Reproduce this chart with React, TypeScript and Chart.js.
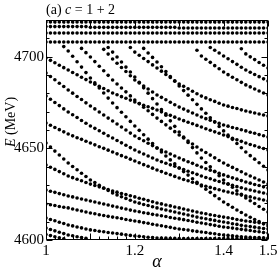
import React, { useEffect, useRef } from "react";
import { Chart, registerables } from "chart.js";

Chart.register(...registerables);

const N = null;

const alphas = [1.00, 1.01, 1.02, 1.03, 1.04, 1.05, 1.06, 1.07, 1.08, 1.09, 1.10, 1.11, 1.12, 1.13, 1.14, 1.15, 1.16, 1.17, 1.18, 1.19, 1.20, 1.21, 1.22, 1.23, 1.24, 1.25, 1.26, 1.27, 1.28, 1.29, 1.30, 1.31, 1.32, 1.33, 1.34, 1.35, 1.36, 1.37, 1.38, 1.39, 1.40, 1.41, 1.42, 1.43, 1.44, 1.45, 1.46, 1.47, 1.48, 1.49, 1.50];

const xTicks = [1, 1.2, 1.4, 1.5];
const yTicks = [4600, 4650, 4700];

const T1 = [4718.9, 4718.9, 4718.9, 4718.9, 4718.9, 4718.9, 4718.9, 4718.9, 4718.9, 4718.9, 4718.9, 4718.9, 4718.9, 4718.9, 4718.9, 4718.9, 4718.9, 4718.9, 4718.9, 4718.9, 4718.9, 4718.9, 4718.9, 4718.9, 4718.9, 4718.9, 4718.9, 4718.9, 4718.9, 4718.9, 4718.9, 4718.9, 4718.9, 4718.9, 4718.9, 4718.9, 4718.9, 4718.9, 4718.9, 4718.9, 4718.9, 4718.9, 4718.9, 4718.9, 4718.9, 4718.9, 4718.9, 4718.9, 4718.9, 4718.9, 4718.9];
const T2 = [4716.4, 4716.4, 4716.4, 4716.4, 4716.4, 4716.4, 4716.4, 4716.4, 4716.4, 4716.4, 4716.0, 4716.0, 4716.0, 4716.0, 4716.0, 4716.0, 4716.0, 4716.0, 4716.0, 4716.0, 4716.0, 4716.0, 4716.0, 4716.0, 4716.0, 4716.0, 4716.0, 4716.0, 4716.0, 4716.0, 4715.6, 4715.6, 4715.6, 4715.6, 4715.6, 4715.6, 4715.6, 4715.6, 4715.6, 4715.6, 4715.6, 4715.6, 4715.6, 4715.6, 4715.6, 4715.6, 4715.6, 4715.6, 4715.6, 4715.6, 4715.6];
const T3 = [4712.9, 4712.9, 4712.9, 4712.9, 4712.9, 4712.9, 4712.9, 4712.9, 4712.9, 4712.9, 4712.9, 4712.9, 4712.9, 4712.9, 4712.9, 4712.9, 4712.9, 4712.9, 4712.9, 4712.9, 4712.9, 4712.9, 4712.9, 4712.9, 4712.9, 4712.9, 4712.9, 4712.9, 4712.9, 4712.9, 4712.9, 4712.9, 4712.9, 4712.9, 4712.9, 4712.9, 4712.9, 4712.9, 4712.9, 4712.9, 4712.9, 4712.9, 4712.9, 4712.9, 4712.9, 4712.9, 4712.9, 4712.9, 4712.9, 4712.9, 4712.9];
const T4 = [4708.0, 4708.0, 4708.0, 4708.0, 4708.0, 4708.0, 4708.0, 4708.0, 4708.0, 4708.0, 4708.0, 4708.0, 4708.0, 4708.0, 4708.0, 4708.0, 4708.0, 4708.0, 4708.0, 4708.0, 4708.0, 4708.0, 4708.0, 4708.0, 4708.0, 4708.0, 4708.0, 4708.0, 4708.0, 4708.0, 4708.0, 4708.0, 4708.0, 4708.0, 4708.0, 4708.0, 4708.0, 4708.0, 4708.0, 4708.0, 4708.0, 4708.0, 4708.0, 4708.0, 4708.0, 4708.0, 4708.0, 4708.0, 4708.0, 4708.0, 4708.0];

const S0 = [4699.3, 4698.0, 4696.7, 4695.3, 4694.0, 4692.7, 4691.4, 4690.1, 4688.8, 4687.5, 4686.2, 4685.0, 4683.8, 4682.6, 4681.4, 4680.2, 4679.2, 4678.2, 4677.3, 4676.3, 4675.3, 4674.4, 4673.5, 4672.7, 4671.8, 4670.9, 4669.9, 4668.9, 4668.0, 4667.0, 4666.0, 4665.1, 4664.2, 4663.4, 4662.5, 4661.6, 4660.7, 4659.9, 4659.0, 4658.2, 4657.3, 4656.4, 4655.5, 4654.7, 4653.8, 4652.9, 4652.1, 4651.4, 4650.6, 4649.9, 4649.1];
const S1 = [4691.1, 4689.2, 4687.4, 4685.5, 4683.7, 4681.8, 4680.1, 4678.3, 4676.6, 4674.8, 4673.1, 4671.5, 4669.8, 4668.2, 4666.5, 4664.9, 4663.3, 4661.6, 4660.0, 4658.3, 4656.7, 4655.4, 4654.1, 4652.8, 4651.5, 4650.2, 4649.1, 4648.0, 4646.9, 4645.8, 4644.7, 4643.7, 4642.7, 4641.8, 4640.8, 4639.8, 4638.9, 4638.1, 4637.2, 4636.4, 4635.5, 4634.7, 4633.9, 4633.2, 4632.4, 4631.6, 4631.0, 4630.3, 4629.7, 4629.0, 4628.4];
const S2 = [4678.5, 4676.8, 4675.0, 4673.3, 4671.5, 4669.8, 4668.3, 4666.8, 4665.2, 4663.7, 4662.2, 4660.9, 4659.6, 4658.2, 4656.9, 4655.6, 4654.3, 4653.0, 4651.7, 4650.4, 4649.1, 4648.0, 4646.9, 4645.8, 4644.7, 4643.6, 4642.7, 4641.9, 4641.0, 4640.2, 4639.3, 4638.4, 4637.5, 4636.7, 4635.8, 4634.9, 4634.1, 4633.4, 4632.6, 4631.9, 4631.1, 4630.4, 4629.8, 4629.1, 4628.5, 4627.8, 4627.3, 4626.7, 4626.2, 4625.6, 4625.1];
const S3 = [4663.8, 4662.6, 4661.4, 4660.2, 4659.0, 4657.8, 4656.8, 4655.8, 4654.9, 4653.9, 4652.9, 4651.9, 4650.9, 4650.0, 4649.0, 4648.0, 4647.0, 4646.0, 4645.1, 4644.1, 4643.1, 4642.1, 4641.1, 4640.2, 4639.2, 4638.2, 4637.3, 4636.4, 4635.6, 4634.7, 4633.8, 4633.0, 4632.3, 4631.5, 4630.8, 4630.0, 4629.3, 4628.7, 4628.0, 4627.4, 4626.7, 4626.2, 4625.6, 4625.1, 4624.5, 4624.0, 4623.5, 4622.9, 4622.4, 4621.8, 4621.3];
const S4 = [4652.9, 4650.7, 4648.5, 4646.4, 4644.2, 4642.0, 4640.1, 4638.3, 4636.4, 4634.6, 4632.7, 4631.3, 4629.9, 4628.4, 4627.0, 4625.6, 4624.6, 4623.6, 4622.7, 4621.7, 4620.7, 4620.1, 4619.4, 4618.8, 4618.1, 4617.5, 4616.9, 4616.4, 4615.8, 4615.3, 4614.7, 4614.2, 4613.6, 4613.1, 4612.5, 4612.0, 4611.6, 4611.1, 4610.7, 4610.2, 4609.8, 4609.4, 4608.9, 4608.5, 4608.0, 4607.6, 4607.3, 4607.0, 4606.6, 4606.3, 4606.0];
const S5 = [4640.9, 4639.7, 4638.5, 4637.3, 4636.1, 4634.9, 4634.0, 4633.1, 4632.3, 4631.4, 4630.5, 4629.7, 4629.0, 4628.2, 4627.5, 4626.7, 4626.1, 4625.4, 4624.8, 4624.1, 4623.5, 4622.8, 4622.2, 4621.5, 4620.9, 4620.2, 4619.7, 4619.1, 4618.6, 4618.0, 4617.5, 4616.9, 4616.4, 4615.8, 4615.3, 4614.7, 4614.3, 4613.8, 4613.4, 4612.9, 4612.5, 4612.1, 4611.7, 4611.2, 4610.8, 4610.4, 4610.1, 4609.7, 4609.4, 4609.0, 4608.7];
const S6 = [4627.3, 4626.6, 4626.0, 4625.3, 4624.7, 4624.0, 4623.5, 4622.9, 4622.4, 4621.8, 4621.3, 4620.7, 4620.2, 4619.6, 4619.1, 4618.5, 4618.0, 4617.4, 4616.9, 4616.3, 4615.8, 4615.4, 4614.9, 4614.5, 4614.0, 4613.6, 4613.2, 4612.8, 4612.3, 4611.9, 4611.5, 4611.1, 4610.6, 4610.2, 4609.7, 4609.3, 4608.9, 4608.4, 4608.0, 4607.5, 4607.1, 4606.8, 4606.5, 4606.1, 4605.8, 4605.5, 4605.2, 4604.8, 4604.5, 4604.1, 4603.8];
const S7 = [4619.6, 4619.2, 4618.8, 4618.3, 4617.9, 4617.5, 4616.9, 4616.4, 4615.8, 4615.3, 4614.7, 4614.3, 4613.8, 4613.4, 4612.9, 4612.5, 4612.1, 4611.7, 4611.2, 4610.8, 4610.4, 4610.0, 4609.5, 4609.1, 4608.6, 4608.2, 4607.8, 4607.3, 4606.9, 4606.4, 4606.0, 4605.7, 4605.4, 4605.0, 4604.7, 4604.4, 4604.1, 4603.7, 4603.4, 4603.0, 4602.7, 4602.5, 4602.3, 4602.0, 4601.8, 4601.6, 4601.5, 4601.4, 4601.3, 4601.2, 4601.1];
const S8 = [4612.0, 4611.2, 4610.5, 4609.7, 4609.0, 4608.2, 4607.7, 4607.1, 4606.6, 4606.0, 4605.5, 4605.2, 4604.8, 4604.5, 4604.1, 4603.8, 4603.5, 4603.2, 4602.8, 4602.5, 4602.2, 4602.0, 4601.8, 4601.5, 4601.3, 4601.1, 4601.0, 4601.0, 4600.9, 4600.9, 4600.8, 4600.8, 4600.8, 4600.8, 4600.8, 4600.8, 4600.8, 4600.8, 4600.8, 4600.8, 4600.8, 4600.8, 4600.8, 4600.8, 4600.8, 4600.8, 4600.8, 4600.8, 4600.8, 4600.8, 4600.8];
const S9 = [4606.5, 4605.7, 4605.0, 4604.2, 4603.5, 4602.7, 4602.3, 4601.8, 4601.4, 4600.9, N, N, N, N, N, N, N, N, N, N, N, N, N, N, N, N, N, N, N, N, N, N, N, N, N, N, N, N, N, N, N, N, N, N, N, N, N, N, N, N, N];
const S10 = [4603.0, 4602.4, 4601.8, 4601.2, 4600.7, N, N, N, N, N, N, N, N, N, N, N, N, N, N, N, N, N, N, N, N, N, N, N, N, N, N, N, N, N, N, N, N, N, N, N, N, N, N, N, N, N, N, N, N, N, N];

const U1 = [N, N, N, N, 4705.5, 4703.1, 4700.2, 4697.2, 4694.3, 4691.3, 4688.4, 4685.7, 4682.9, 4680.2, 4677.4, 4674.7, 4672.2, 4669.7, 4667.2, 4664.7, 4662.2, 4659.8, 4657.4, 4655.0, 4652.6, 4650.2, 4648.0, 4645.8, 4643.7, 4641.5, 4639.3, 4637.3, 4635.4, 4633.4, 4631.5, 4629.5, 4627.7, 4626.0, 4624.2, 4622.5, 4620.7, 4619.3, 4617.9, 4616.4, 4615.0, 4613.6, 4612.4, 4611.2, 4610.0, 4608.8, 4607.6];
const U2 = [N, N, N, N, N, N, N, N, 4704.5, 4702.2, 4699.8, 4697.3, 4694.8, 4692.3, 4689.8, 4687.3, 4685.1, 4682.9, 4680.8, 4678.6, 4676.4, 4674.4, 4672.4, 4670.5, 4668.5, 4666.5, 4664.7, 4662.8, 4661.0, 4659.1, 4657.3, 4655.7, 4654.0, 4652.4, 4650.7, 4649.1, 4647.7, 4646.3, 4644.8, 4643.4, 4642.0, 4640.8, 4639.6, 4638.4, 4637.2, 4636.0, 4634.9, 4633.8, 4632.7, 4631.6, 4630.5];
const U7 = [N, N, N, N, N, N, N, N, N, N, N, N, N, 4704.0, 4701.4, 4698.7, 4696.4, 4694.1, 4691.9, 4689.6, 4687.3, 4685.7, 4684.0, 4682.4, 4680.7, 4679.1, 4677.8, 4676.5, 4675.1, 4673.8, 4672.5, 4671.4, 4670.3, 4669.3, 4668.2, 4667.1, 4666.2, 4665.3, 4664.5, 4663.6, 4662.7, 4662.1, 4661.4, 4660.8, 4660.1, 4659.5, 4658.8, 4658.2, 4657.5, 4656.9, 4656.2];
const U9 = [N, N, N, N, N, N, N, N, N, N, N, N, N, N, 4705.0, 4702.5, 4699.8, 4697.1, 4694.3, 4691.6, 4688.9, 4686.0, 4683.0, 4680.1, 4677.1, 4674.2, 4671.1, 4668.1, 4665.0, 4662.0, 4658.9, 4656.1, 4653.2, 4650.4, 4647.5, 4644.7, 4642.3, 4639.9, 4637.5, 4635.1, 4632.7, 4630.7, 4628.8, 4626.8, 4624.9, 4622.9, 4621.4, 4619.9, 4618.3, 4616.8, 4615.3];
const U3 = [N, N, N, N, N, N, N, N, N, N, N, N, N, N, N, N, N, N, N, 4705.0, 4702.5, 4700.8, 4699.0, 4697.3, 4695.5, 4693.8, 4692.1, 4690.3, 4688.6, 4686.8, 4685.1, 4683.8, 4682.5, 4681.1, 4679.8, 4678.5, 4677.5, 4676.5, 4675.6, 4674.6, 4673.6, 4673.0, 4672.3, 4671.7, 4671.0, 4670.4, 4669.8, 4669.3, 4668.7, 4668.2, 4667.6];
const U6 = [N, N, N, N, N, N, N, N, N, N, N, N, N, N, N, N, N, N, N, N, N, N, 4704.5, 4702.0, 4699.6, 4697.1, 4694.5, 4691.9, 4689.2, 4686.6, 4684.0, 4681.5, 4679.0, 4676.5, 4674.0, 4671.5, 4669.1, 4666.7, 4664.3, 4661.9, 4659.5, 4657.2, 4654.9, 4652.6, 4650.3, 4648.0, 4646.0, 4644.1, 4642.1, 4640.2, 4638.2];
const U4 = [N, N, N, N, N, N, N, N, N, N, N, N, N, N, N, N, N, N, N, N, N, N, N, N, N, N, N, N, N, N, N, N, N, N, 4703.5, 4700.4, 4698.6, 4696.9, 4695.1, 4693.4, 4691.6, 4690.2, 4688.8, 4687.4, 4686.0, 4684.6, 4683.5, 4682.4, 4681.3, 4680.2, 4679.1];
const U5 = [N, N, N, N, N, N, N, N, N, N, N, N, N, N, N, N, N, N, N, N, N, N, N, N, N, N, N, N, N, N, N, N, N, N, N, N, N, 4705.0, 4703.5, 4702.0, 4700.4, 4698.9, 4697.3, 4695.8, 4694.2, 4692.7, 4691.5, 4690.3, 4689.1, 4687.9, 4686.7];
const U11 = [N, N, N, N, N, N, N, N, N, N, N, N, N, N, N, N, N, N, N, N, N, N, N, N, N, N, N, N, N, N, N, N, N, N, N, N, N, N, N, N, N, N, N, N, 4704.3, 4701.5, 4699.9, 4698.4, 4696.8, 4695.3, 4693.8];

const curves = [T1, T2, T3, T4, S0, S1, S2, S3, S4, S5, S6, S7, S8, S9, S10, U1, U2, U7, U9, U3, U6, U4, U5, U11];

const FONT = "'Liberation Serif', 'Times New Roman', serif";

const framePlugin = {
  id: "frame",
  afterDraw(chart: any) {
    const { ctx, chartArea: a, scales } = chart;
    const xs = scales.x;
    const ys = scales.y;
    const L = Math.round(a.left) + 0.5;
    const R = Math.round(a.right) - 0.5;
    const T = Math.round(a.top) + 0.5;
    const B = Math.round(a.bottom) - 0.5;
    ctx.save();
    ctx.strokeStyle = "#000";
    ctx.lineWidth = 1;
    ctx.beginPath();
    ctx.rect(L, T, R - L, B - T);
    for (let i = 0; i <= 25; i++) {
      const v = 1 + i * 0.02;
      const px = Math.round(xs.getPixelForValue(v)) + 0.5;
      const len = i % 5 === 0 ? 6 : 3;
      ctx.moveTo(px, B);
      ctx.lineTo(px, B - len);
      ctx.moveTo(px, T);
      ctx.lineTo(px, T + len);
    }
    for (let i = 0; i <= 12; i++) {
      const v = 4600 + i * 10;
      const py = Math.round(ys.getPixelForValue(v)) + 0.5;
      const len = i % 5 === 0 ? 6 : 3;
      ctx.moveTo(L, py);
      ctx.lineTo(L + len, py);
      ctx.moveTo(R, py);
      ctx.lineTo(R - len, py);
    }
    ctx.stroke();

    ctx.fillStyle = "#000";
    ctx.textBaseline = "alphabetic";
    ctx.textAlign = "left";
    let tx = a.left;
    const ty = 14;
    ctx.font = `14px ${FONT}`;
    ctx.fillText("(a) ", tx, ty);
    tx += ctx.measureText("(a) ").width;
    ctx.font = `italic 14px ${FONT}`;
    ctx.fillText("c", tx, ty);
    tx += ctx.measureText("c").width;
    ctx.font = `14px ${FONT}`;
    ctx.fillText(" = 1 + 2", tx, ty);

    ctx.save();
    ctx.translate(11, (a.top + a.bottom) / 2 - 8);
    ctx.rotate(-Math.PI / 2);
    ctx.textBaseline = "middle";
    ctx.font = `italic 14px ${FONT}`;
    const w1 = ctx.measureText("E").width;
    ctx.font = `14px ${FONT}`;
    const w2 = ctx.measureText(" (MeV)").width;
    let sx = -(w1 + w2) / 2;
    ctx.font = `italic 14px ${FONT}`;
    ctx.fillText("E", sx, 0);
    sx += w1;
    ctx.font = `14px ${FONT}`;
    ctx.fillText(" (MeV)", sx, 0);
    ctx.restore();

    ctx.font = `italic 18px ${FONT}`;
    ctx.textAlign = "center";
    ctx.fillText("\u03b1", (a.left + a.right) / 2, 267);
    ctx.restore();
  },
};

export default function App() {
  const ref = useRef<HTMLCanvasElement | null>(null);

  useEffect(() => {
    if (!ref.current) return;
    const points: { x: number; y: number }[] = [];
    curves.forEach((c) => {
      c.forEach((e, i) => {
        if (e !== null && e !== undefined) points.push({ x: alphas[i], y: e as number });
      });
    });

    const chart = new Chart(ref.current, {
      type: "scatter",
      data: {
        datasets: [
          {
            data: points,
            pointRadius: 1.8,
            pointBackgroundColor: "#000",
            pointBorderWidth: 0,
            pointBorderColor: "#000",
            showLine: false,
          },
        ],
      },
      options: {
        responsive: false,
        animation: false,
        events: [],
        layout: { padding: { left: 0, right: 9, top: 20, bottom: 0 } },
        plugins: { legend: { display: false }, tooltip: { enabled: false }, title: { display: false } },
        scales: {
          x: {
            type: "linear",
            min: 1,
            max: 1.5,
            afterBuildTicks: (s: any) => {
              s.ticks = xTicks.map((v) => ({ value: v }));
            },
            afterFit: (s: any) => {
              s.height = 30;
              s.paddingLeft = 0;
              s.paddingRight = 0;
            },
            grid: { display: false, drawTicks: false },
            border: { display: false },
            ticks: {
              color: "#000",
              font: { family: FONT, size: 15 },
              padding: 2,
              maxRotation: 0,
              autoSkip: false,
              callback: (v: any) => String(v),
            },
          },
          y: {
            type: "linear",
            min: 4600,
            max: 4720,
            afterBuildTicks: (s: any) => {
              s.ticks = yTicks.map((v) => ({ value: v }));
            },
            afterFit: (s: any) => {
              s.width = 46;
              s.paddingTop = 0;
              s.paddingBottom = 0;
            },
            grid: { display: false, drawTicks: false },
            border: { display: false },
            ticks: {
              color: "#000",
              font: { family: FONT, size: 15 },
              padding: 2,
              autoSkip: false,
              callback: (v: any) => String(v),
            },
          },
        },
      },
      plugins: [framePlugin],
    });
    return () => chart.destroy();
  }, []);

  return (
    <div style={{ position: "fixed", left: 0, top: 0, width: 277, height: 270, background: "#fff" }}>
      <canvas ref={ref} width={277} height={270} style={{ display: "block" }} />
    </div>
  );
}
